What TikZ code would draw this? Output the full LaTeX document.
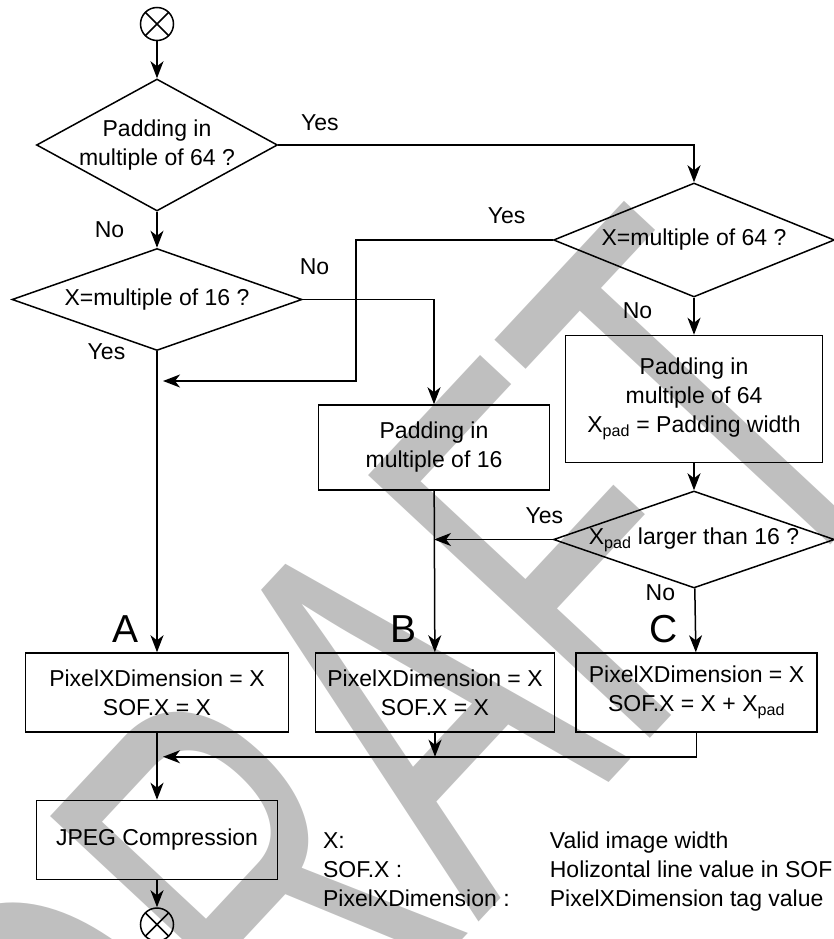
\documentclass[tikz,border=0pt]{standalone}
\usepackage{fontspec}
\setmainfont{Liberation Sans}
\usepackage{tikz}
\usetikzlibrary{arrows.meta,positioning,shapes.geometric}

\begin{document}
\begin{tikzpicture}[x=1pt, y=-1pt, line width=1.5pt,
  every node/.style={font=\fontsize{23}{29}\selectfont},
  box/.style={draw, align=center, minimum height=79pt, inner sep=0pt},
  decision/.style={draw, diamond, align=center, inner sep=-4pt, aspect=2.5},
  terminal/.style={draw, circle, minimum size=33pt, inner sep=0pt,
    path picture={\draw (path picture bounding box.south west) -- (path picture bounding box.north east)
      (path picture bounding box.north west) -- (path picture bounding box.south east);}},
  lbl/.style={inner sep=0pt},
  big/.style={inner sep=0pt, font=\fontsize{39}{39}\selectfont},
  watermark/.style={rotate=47, text=black!25, inner sep=0pt, font=\fontsize{560}{560}\selectfont},
  arr/.style={-{Stealth[length=17pt, width=13pt, inset=5pt]}}]
\useasboundingbox (0,0) rectangle (834,939);
\node[watermark] (draft) at (389,736) {\scalebox{0.6}[1]{DRAFT}};
% left column
\node[terminal] (start) at (157,24) {};
\node[decision, aspect=1.83, minimum width=241pt, minimum height=132pt] (padq) at (157,145) {Padding in\\multiple of 64 ?};
\node[decision, minimum width=290pt, minimum height=102pt, below=36pt of padq] (m16q) {X=multiple of 16 ?};
% right column
\node[decision, minimum width=281pt, minimum height=114pt] (m64q) at (694,240) {X=multiple of 64 ?};
\node[box, minimum width=257pt, minimum height=127pt, below=37pt of m64q] (pad64) {Padding in\\multiple of 64\\X\textsubscript{pad} = Padding width};
\node[decision, minimum width=281pt, minimum height=97pt, below=27pt of pad64] (padq16) {X\textsubscript{pad} larger than 16 ?};
\node[box, minimum width=231pt, minimum height=85pt] (pad16) at (434,447.5) {Padding in\\multiple of 16};
% results
\node[box, minimum width=263pt] (boxA) at (157,692.5) {PixelXDimension = X\\SOF.X = X};
\node[box, minimum width=239pt, right=25.5pt of boxA] (boxB) {PixelXDimension = X\\SOF.X = X};
\node[box, minimum width=241pt, right=20pt of boxB] (boxC) {PixelXDimension = X\\SOF.X = X + X\textsubscript{pad}};
\node[big, above left=9pt and 18pt of boxA.north] (labA) {A};
\node[big, above left=9pt and 18pt of boxB.north] (labB) {B};
\node[big, above left=9pt and 18pt of boxC.north] (labC) {C};
\node[box, minimum width=241pt, below=67pt of boxA] (jpeg) {JPEG Compression};
\node[terminal, below=27pt of jpeg] (stop) {};
% legend
\node[anchor=west, align=left] (keys) at (319,870) {X:\\SOF.X :\\PixelXDimension :};
\node[align=left, base right=32pt of keys] (vals) {Valid image width\\Holizontal line value in SOF\\PixelXDimension tag value};
% connectors
\coordinate (bend64) at (356,381);
\coordinate[below=24pt of boxC.south] (mrg);
\draw[arr] (start) -- (padq);
\draw[arr] (padq.east) -| node[lbl, pos=0.05, above=14pt] (y1) {Yes} (m64q.north);
\draw[arr] (padq) -- node[lbl, left=32pt] (n1) {No} (m16q);
\draw[arr] (m16q.east) -| node[lbl, pos=0.045, above=24.5pt] (n3) {No} (pad16.north);
\draw[arr] (m16q) -- node[lbl, pos=0, left=31pt] (y3) {Yes} (boxA);
\draw[arr] (m64q.west) -| node[lbl, pos=0.117, above=15.5pt] (y2) {Yes} (bend64) -- ([xshift=6pt]boxA.north |- bend64);
\draw[arr] (m64q) -- node[lbl, pos=0.35, left=41pt] (n2) {No} (pad64);
\draw[arr] (pad64) -- (padq16);
\draw[arr] (padq16.west) -- node[lbl, pos=0.07, above=15.5pt] (y4) {Yes} (pad16.south |- padq16.west);
\draw[arr] (padq16) -- node[lbl, pos=0.07, left=19pt] (n4) {No} (boxC);
\draw[arr] (pad16) -- (boxB);
\draw[arr] (boxA) -- (jpeg);
\draw[arr] (boxC.south) -- (mrg) -- ([xshift=6pt]boxA.south |- mrg);
\draw[arr] (boxB.south) -- (boxB.south |- mrg);
\draw[arr] (jpeg) -- (stop);
\end{tikzpicture}
\end{document}
